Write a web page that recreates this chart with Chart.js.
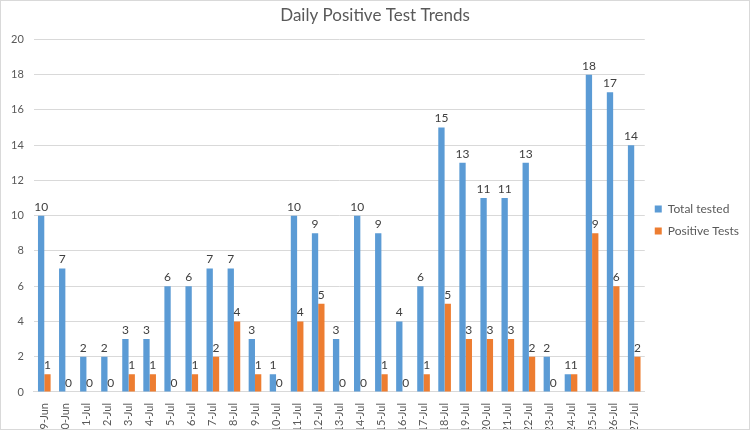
<!DOCTYPE html>
<html>
<head>
<meta charset="utf-8">
<script src="https://cdn.jsdelivr.net/npm/chart.js@4/dist/chart.umd.min.js"></script>
<style>
  body { margin: 0; background: #fff; }
  #wrap { width: 748px; height: 428px; border: 1px solid #d9d9d9; overflow: hidden; }
  #inner { width: 748px; height: 438px; }
</style>
</head>
<body>
<div id="wrap"><div id="inner"><canvas id="trendChart"></canvas></div></div>
<script>
const days = ["29-Jun", "30-Jun", "1-Jul", "2-Jul", "3-Jul", "4-Jul", "5-Jul", "6-Jul", "7-Jul", "8-Jul",
  "9-Jul", "10-Jul", "11-Jul", "12-Jul", "13-Jul", "14-Jul", "15-Jul", "16-Jul", "17-Jul", "18-Jul",
  "19-Jul", "20-Jul", "21-Jul", "22-Jul", "23-Jul", "24-Jul", "25-Jul", "26-Jul", "27-Jul"];
const totalTested = [10, 7, 2, 2, 3, 3, 6, 6, 7, 7, 3, 1, 10, 9, 3, 10, 9, 4, 6, 15, 13, 11, 11, 13, 2, 1, 18, 17, 14];
const positiveTests = [1, 0, 0, 0, 1, 1, 0, 1, 2, 4, 1, 0, 4, 5, 0, 0, 1, 0, 1, 5, 3, 3, 3, 2, 0, 1, 9, 6, 2];

// values above each bar
const valueLabels = {
  id: "valueLabels",
  afterDatasetsDraw(chart) {
    const ctx = chart.ctx;
    ctx.save();
    ctx.font = "12px Lato";
    ctx.fillStyle = "#404040";
    ctx.textAlign = "center";
    ctx.textBaseline = "bottom";
    chart.data.datasets.forEach((ds, i) => {
      chart.getDatasetMeta(i).data.forEach((bar, j) => {
        ctx.fillText(ds.data[j], bar.x, bar.y - 3);
      });
    });
    ctx.restore();
  },
};

const config = {
  type: "bar",
  data: {
    labels: days,
    datasets: [
      {
        label: "Total tested",
        data: totalTested,
        backgroundColor: "#5b9bd5",
        categoryPercentage: 0.6,
        barPercentage: 1.0,
      },
      {
        label: "Positive Tests",
        data: positiveTests,
        backgroundColor: "#ed7d31",
        categoryPercentage: 0.6,
        barPercentage: 1.0,
      },
    ],
  },
  options: {
    maintainAspectRatio: false,
    animation: false,
    layout: { padding: { left: 0, right: 0, top: 0, bottom: 0 } },
    plugins: {
      title: {
        display: true,
        text: "Daily Positive Test Trends",
        color: "#595959",
        font: { family: "Lato", size: 17, weight: "normal" },
        padding: { top: 4, bottom: 14 },
      },
      legend: {
        position: "right",
        labels: {
          color: "#595959",
          font: { family: "Lato", size: 12 },
          boxWidth: 7,
          boxHeight: 7,
          padding: 10,
        },
      },
      tooltip: { enabled: false },
    },
    scales: {
      x: {
        grid: { display: false },
        border: { color: "#d9d9d9" },
        ticks: {
          color: "#595959",
          font: { family: "Lato", size: 11 },
          minRotation: 90,
          maxRotation: 90,
          autoSkip: false,
        },
      },
      y: {
        min: 0,
        max: 20,
        grid: { color: "#d9d9d9", drawTicks: false },
        border: { display: false },
        ticks: {
          stepSize: 2,
          color: "#595959",
          font: { family: "Lato", size: 11 },
          padding: 10,
        },
      },
    },
  },
  plugins: [valueLabels],
};

let trendChart = new Chart(document.getElementById("trendChart"), config);
</script>
</body>
</html>
